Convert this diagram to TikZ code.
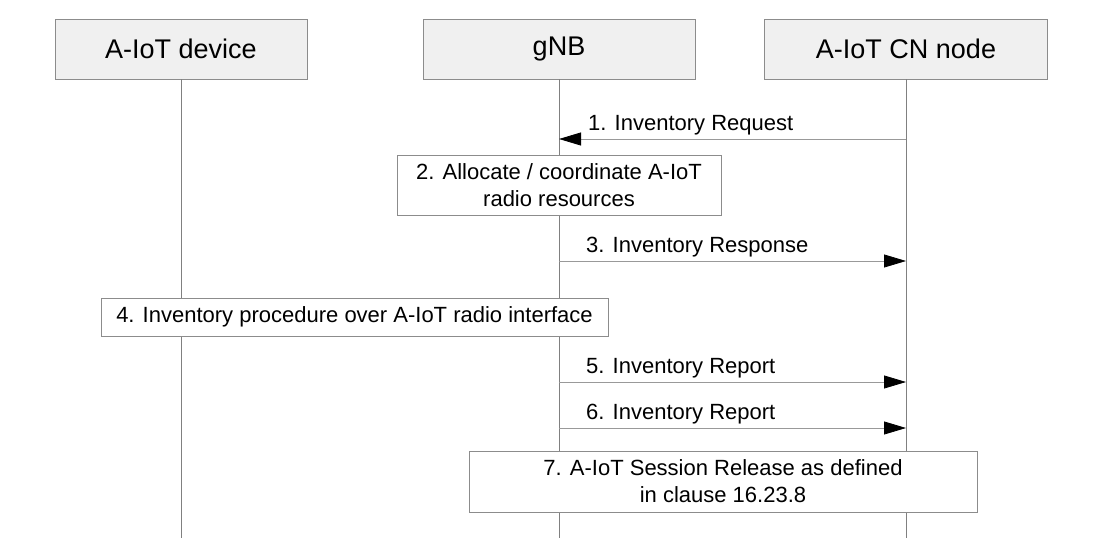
\documentclass[tikz,border=0pt]{standalone}
\usepackage{fontspec}
\setmainfont{Liberation Sans}
\usetikzlibrary{arrows.meta}
\begin{document}
\begin{tikzpicture}[x=1pt,y=-1pt,
  hdr/.style={draw=black!45,fill=black!6,minimum height=60pt,inner sep=0pt,font=\fontsize{27}{30}\selectfont},
  box/.style={draw=black!45,fill=white,align=center,inner sep=0pt,font=\fontsize{22}{27}\selectfont},
  life/.style={draw=black!50,line width=0.6pt},
  msg/.style={draw=black!40,line width=0.8pt,-{Triangle[length=22pt,width=13pt,fill=black,color=black]}},
  lbl/.style={font=\fontsize{22}{26}\selectfont,inner sep=0pt,anchor=base west}]
\useasboundingbox (0,0) rectangle (1099,553);
\node[hdr,minimum width=252pt] (dev) at (181,49) {A-IoT device};
\node[hdr,minimum width=272pt] (gnb) at (559,49) {gNB};
\node[hdr,minimum width=283pt] (cn) at (906,49) {A-IoT CN node};
\coordinate (devE) at (181,538);
\coordinate (gnbE) at (559,538);
\coordinate (cnE) at (906,538);
\draw[life] (dev.south) -- (devE);
\draw[life] (gnb.south) -- (gnbE);
\draw[life] (cn.south) -- (cnE);
% 1
\coordinate (c1) at (906,139); \coordinate (g1) at (559,139);
\draw[msg] (c1) -- (g1);
\node[lbl] (l1) at (588,131) {1. Inventory Request};
\node[box,minimum width=324pt,minimum height=60pt] (b2) at (559,185) {2. Allocate / coordinate A-IoT\\radio resources};
\coordinate (g3) at (559,261); \coordinate (c3) at (906,261);
\draw[msg] (g3) -- (c3);
\node[lbl] (l3) at (586,252) {3. Inventory Response};
\node[box,minimum width=507pt,minimum height=38pt] (b4) at (354.5,317) {4. Inventory procedure over A-IoT radio interface};
\coordinate (g5) at (559,382); \coordinate (c5) at (906,382);
\draw[msg] (g5) -- (c5);
\node[lbl] (l5) at (586,373) {5. Inventory Report};
\coordinate (g6) at (559,428); \coordinate (c6) at (906,428);
\draw[msg] (g6) -- (c6);
\node[lbl] (l6) at (586,419) {6. Inventory Report};
\node[box,minimum width=508pt,minimum height=61pt] (b7) at (723,481.5) {7. A-IoT Session Release as defined\\in clause 16.23.8};
\end{tikzpicture}
\end{document}
